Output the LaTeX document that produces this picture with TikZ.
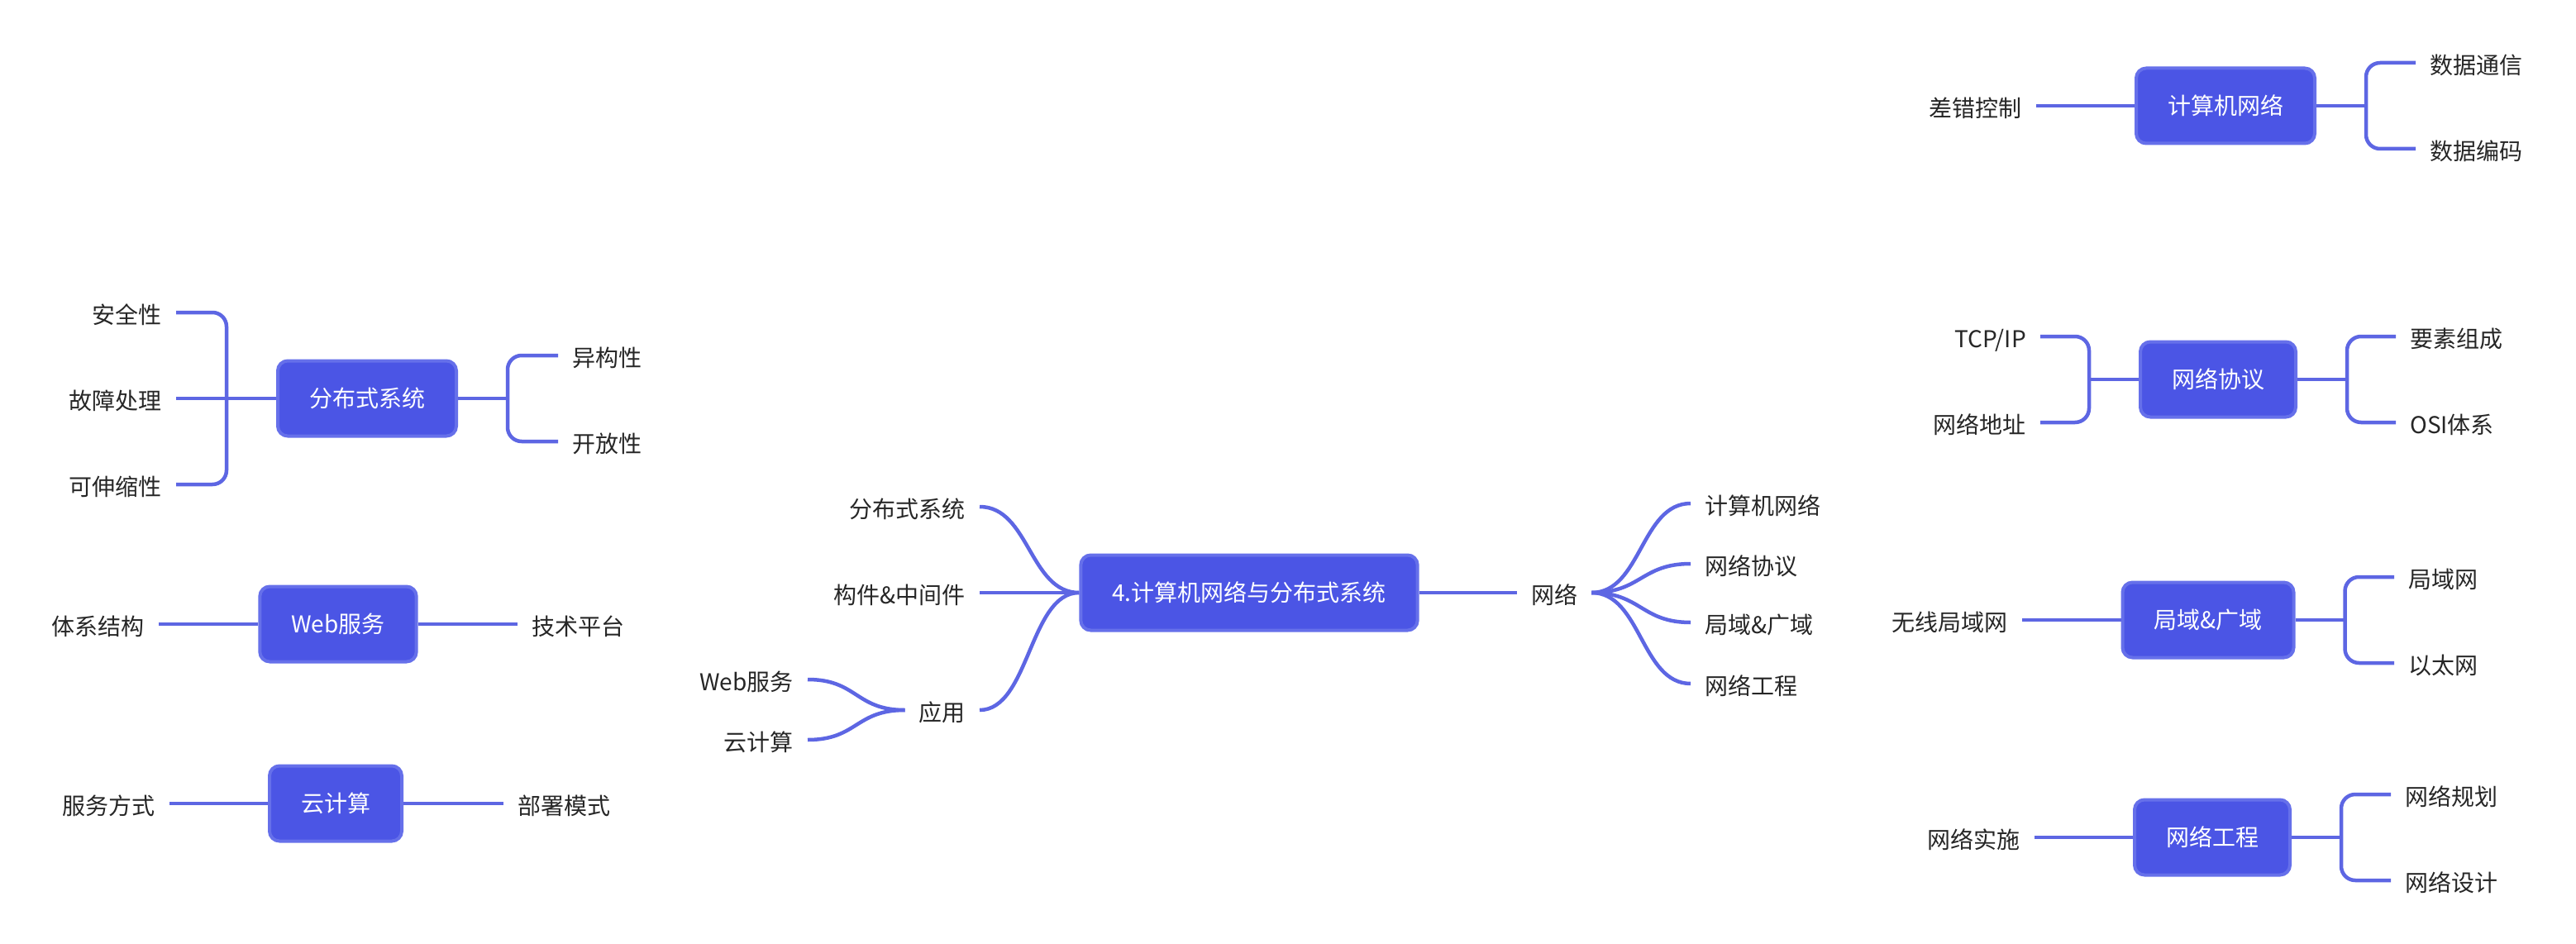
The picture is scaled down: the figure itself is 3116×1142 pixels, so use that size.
\documentclass[tikz,border=0pt]{standalone}
\usepackage{fontspec}
\setmainfont{Noto Sans CJK SC}
\definecolor{hubfill}{HTML}{4B55E5}
\definecolor{hubline}{HTML}{6670EA}
\definecolor{linkcol}{HTML}{5D66E3}
\definecolor{leaftext}{HTML}{262626}
\tikzset{every node/.style={inner sep=0pt,font=\fontsize{28}{34}\selectfont}}
\tikzset{hub/.style={rectangle,rounded corners=12pt,fill=hubfill,draw=hubline,line width=4pt,text=white,minimum height=91pt,inner xsep=38pt}}
\tikzset{leaf/.style={text=leaftext,inner xsep=17pt,text height=26.6pt,text depth=0pt}}
\tikzset{link/.style={draw=linkcol,line width=4.5pt}}
\tikzset{fork/.style={link,rounded corners=17pt}}

\begin{document}
\begin{tikzpicture}[x=1pt,y=-1pt]
      \useasboundingbox (0,0) rectangle (3116,1142);
      \node[hub] (root) at (1511,717) {4.计算机网络与分布式系统};
      \node[leaf,anchor=east] (dist) at (1185,613) {分布式系统};
      \node[leaf,anchor=east] (mid) at (1185,717) {构件\&中间件};
      \node[leaf,anchor=east] (app) at (1185,859) {应用};
      \node[leaf,anchor=east] (web) at (977,822) {Web服务};
      \node[leaf,anchor=east] (cloud) at (977,895) {云计算};
        \draw[link] (dist.east) .. controls +(60,0) and +(-60,0) .. (root.west);
        \draw[link] (mid.east) -- (root.west);
        \draw[link] (app.east) .. controls +(60,0) and +(-60,0) .. (root.west);
        \draw[link] (web.east) .. controls +(60,0) and +(-60,0) .. (app.west);
        \draw[link] (cloud.east) .. controls +(60,0) and +(-60,0) .. (app.west);

      \node[leaf] (net) at (1880,717) {网络};
      \node[leaf,anchor=west] (netcn) at (2045,609) {计算机网络};
      \node[leaf,anchor=west] (netnp) at (2045,682) {网络协议};
      \node[leaf,anchor=west] (netlw) at (2045,753) {局域\&广域};
      \node[leaf,anchor=west] (netne) at (2045,827) {网络工程};
        \draw[link] (root.east) -- (net.west);
        \foreach \k in {netcn,netnp,netlw,netne}
          \draw[link] (net.east) .. controls +(60,0) and +(-60,0) .. (\k.west);

      \node[hub] (ds) at (444,482) {分布式系统};
      \node[leaf,anchor=east] (dssec) at (213,378) {安全性};
      \node[leaf,anchor=east] (dsfault) at (213,482) {故障处理};
      \node[leaf,anchor=east] (dsscale) at (213,586) {可伸缩性};
      \node[leaf,anchor=west] (dshet) at (675,430) {异构性};
      \node[leaf,anchor=west] (dsopen) at (675,534) {开放性};
      \coordinate (dsl) at ([xshift=-60pt]ds.west);
      \coordinate (dsr) at ([xshift=60pt]ds.east);
        \draw[fork] (dssec.east) -| (dsl) |- (dsscale.east);
        \draw[link] (dsfault.east) -- (ds.west);
        \draw[link] (ds.east) -- (dsr);
        \draw[fork] (dshet.west) -| (dsr) |- (dsopen.west);

      \node[hub] (ws) at (409,755) {Web服务};
      \node[leaf,anchor=east] (wsarch) at (192,755) {体系结构};
      \node[leaf,anchor=west] (wsplat) at (626,755) {技术平台};
        \draw[link] (wsarch.east) -- (ws.west);
        \draw[link] (ws.east) -- (wsplat.west);

      \node[hub] (cc) at (406,972) {云计算};
      \node[leaf,anchor=east] (ccserv) at (205,972) {服务方式};
      \node[leaf,anchor=west] (ccdep) at (609,972) {部署模式};
        \draw[link] (ccserv.east) -- (cc.west);
        \draw[link] (cc.east) -- (ccdep.west);

      \node[hub] (cn) at (2692,128) {计算机网络};
      \node[leaf,anchor=east] (cnerr) at (2463,128) {差错控制};
      \node[leaf,anchor=west] (cncom) at (2922,76) {数据通信};
      \node[leaf,anchor=west] (cncode) at (2922,180) {数据编码};
      \coordinate (cnr) at ([xshift=60pt]cn.east);
        \draw[link] (cnerr.east) -- (cn.west);
        \draw[link] (cn.east) -- (cnr);
        \draw[fork] (cncom.west) -| (cnr) |- (cncode.west);

      \node[hub] (np) at (2683,459) {网络协议};
      \node[leaf,anchor=east] (nptcp) at (2468,407) {TCP/IP};
      \node[leaf,anchor=east] (npaddr) at (2468,511) {网络地址};
      \node[leaf,anchor=west] (npelem) at (2898,407) {要素组成};
      \node[leaf,anchor=west] (nposi) at (2898,511) {OSI体系};
      \coordinate (npl) at ([xshift=-60pt]np.west);
      \coordinate (npr) at ([xshift=60pt]np.east);
        \draw[fork] (nptcp.east) -| (npl) |- (npaddr.east);
        \draw[link] (npl) -- (np.west);
        \draw[link] (np.east) -- (npr);
        \draw[fork] (npelem.west) -| (npr) |- (nposi.west);

      \node[hub] (lw) at (2671,750) {局域\&广域};
      \node[leaf,anchor=east] (lwwl) at (2446,750) {无线局域网};
      \node[leaf,anchor=west] (lwlan) at (2896,698) {局域网};
      \node[leaf,anchor=west] (lweth) at (2896,802) {以太网};
      \coordinate (lwr) at ([xshift=60pt]lw.east);
        \draw[link] (lwwl.east) -- (lw.west);
        \draw[link] (lw.east) -- (lwr);
        \draw[fork] (lwlan.west) -| (lwr) |- (lweth.west);

      \node[hub] (ne) at (2676,1013) {网络工程};
      \node[leaf,anchor=east] (neimp) at (2461,1013) {网络实施};
      \node[leaf,anchor=west] (neplan) at (2892,961) {网络规划};
      \node[leaf,anchor=west] (nedes) at (2892,1065) {网络设计};
      \coordinate (ner) at ([xshift=60pt]ne.east);
        \draw[link] (neimp.east) -- (ne.west);
        \draw[link] (ne.east) -- (ner);
        \draw[fork] (neplan.west) -| (ner) |- (nedes.west);
    \end{tikzpicture}
\end{document}
